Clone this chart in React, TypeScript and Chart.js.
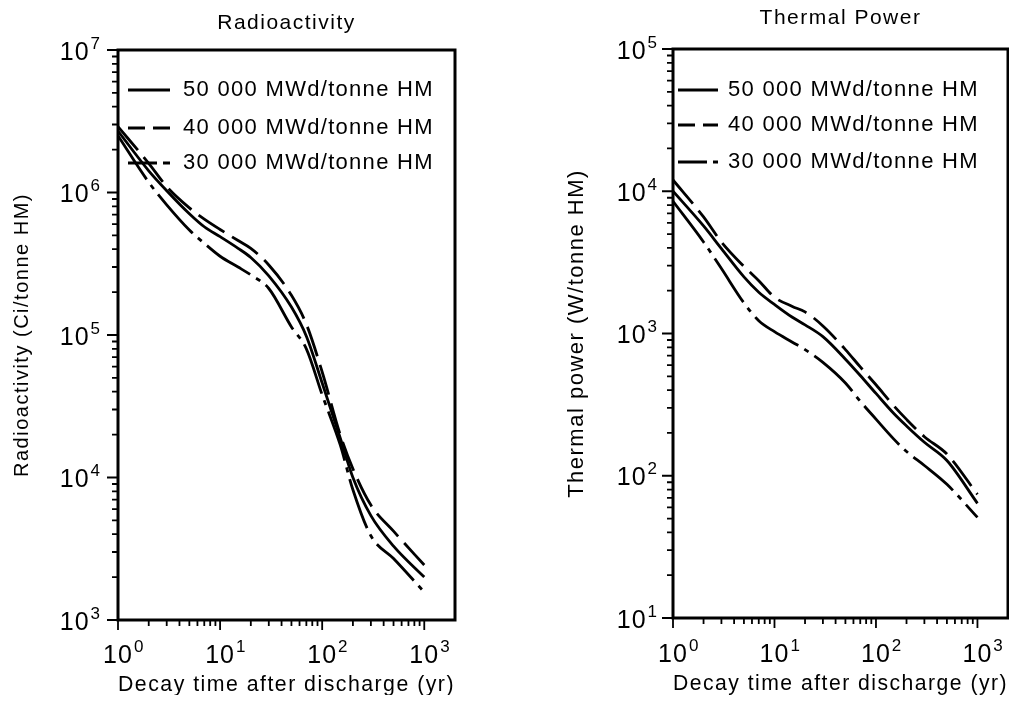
import React, { useEffect, useRef } from 'react';
import { Chart, registerables } from 'chart.js';

Chart.register(...registerables);

// ---------- data ----------
const decayYears = [1, 2, 3, 5, 7, 10, 15, 20, 30, 50, 70, 100, 150, 200, 300, 500, 1000];

const burnupLabels = ['50 000 MWd/tonne HM', '40 000 MWd/tonne HM', '30 000 MWd/tonne HM'];

// Radioactivity (Ci/tonne HM)
const radioactivity50 = [2.7e6, 1.42e6, 1.03e6, 7.1e5, 5.75e5, 4.9e5, 4.06e5, 3.5e5, 2.6e5, 1.57e5, 9.8e4, 4.6e4, 1.9e4, 1.0e4, 5.4e3, 3.3e3, 2.0e3];
const radioactivity40 = [2.9e6, 1.6e6, 1.1e6, 7.8e5, 6.5e5, 5.5e5, 4.6e5, 4.05e5, 3.1e5, 1.9e5, 1.19e5, 5.5e4, 2.0e4, 1.15e4, 6.4e3, 4.2e3, 2.43e3];
const radioactivity30 = [2.5e6, 1.18e6, 8.2e5, 5.46e5, 4.4e5, 3.57e5, 3.0e5, 2.64e5, 2.12e5, 1.14e5, 8.0e4, 3.8e4, 1.7e4, 8.2e3, 3.9e3, 2.7e3, 1.57e3];

// Thermal power (W/tonne HM)
const thermal50 = [1.0e4, 5.7e3, 3.95e3, 2.5e3, 1.95e3, 1.6e3, 1.3e3, 1.15e3, 950, 660, 507, 379, 274, 224, 172, 128, 64];
const thermal40 = [1.2e4, 6.6e3, 4.4e3, 2.96e3, 2.35e3, 1.8e3, 1.55e3, 1.42e3, 1.13e3, 771, 582, 436, 310, 249, 188, 142, 74];
const thermal30 = [8.5e3, 4.4e3, 2.86e3, 1.64e3, 1.23e3, 1.03e3, 869, 770, 627, 449, 334, 250, 181, 148, 118, 87, 51];

const xAxisTitle = 'Decay time after discharge (yr)';

// ---------- styles ----------
const FONT = '"Liberation Sans", Arial, Helvetica, sans-serif';
const lineDashes: number[][] = [[], [31, 9], [52, 7, 5, 7]];
const legendDashes: number[][] = [[], [17, 8], [29, 6, 10, 6]];

function decadeExponent(value: number): number | null {
  const e = Math.log10(value);
  const r = Math.round(e);
  return Math.abs(e - r) > 1e-6 ? null : r;
}

const spacingPlugin = {
  id: 'letterSpacing',
  beforeDraw(chart: any) {
    chart.ctx.letterSpacing = '1.5px';
  },
};

// draws "10" with a raised exponent; anchorX is the centre of "10" (mode 'center') or the right edge of the label (mode 'right')
function drawPower(ctx: any, exp: number, anchorX: number, baseline: number, mode: 'center' | 'right') {
  ctx.textBaseline = 'alphabetic';
  ctx.textAlign = 'left';
  ctx.letterSpacing = '1px';
  ctx.font = `25px ${FONT}`;
  const baseW = ctx.measureText('10').width;
  ctx.letterSpacing = '0px';
  ctx.font = `17px ${FONT}`;
  const expText = String(exp);
  const expW = ctx.measureText(expText).width;
  const baseX = mode === 'center' ? anchorX - baseW / 2 : anchorX - expW - 1 - baseW;
  ctx.letterSpacing = '1px';
  ctx.font = `25px ${FONT}`;
  ctx.fillText('10', baseX, baseline);
  ctx.letterSpacing = '0px';
  ctx.font = `17px ${FONT}`;
  ctx.fillText(expText, baseX + baseW + 1, baseline - 11);
}

const decorPlugin = {
  id: 'decor',
  afterDatasetsDraw(chart: any, _args: any, opts: any) {
    const { ctx, chartArea: a } = chart;
    const xs = chart.scales.x;
    const ys = chart.scales.y;
    ctx.save();
    ctx.strokeStyle = '#000';
    ctx.fillStyle = '#000';
    ctx.setLineDash([]);
    ctx.lineCap = 'butt';

    // tick marks (outside the frame)
    ctx.lineWidth = 1.8;
    ctx.beginPath();
    const yE0 = Math.round(Math.log10(ys.min));
    const yE1 = Math.round(Math.log10(ys.max));
    for (let e = yE0; e <= yE1; e++) {
      for (let m = 1; m <= 9; m++) {
        const v = m * Math.pow(10, e);
        if (v > ys.max * 1.0001) break;
        const py = ys.getPixelForValue(v);
        const len = m === 1 ? 11 : 6;
        ctx.moveTo(a.left - len, py);
        ctx.lineTo(a.left, py);
      }
    }
    const xE1 = Math.round(Math.log10(opts.xTickMax));
    for (let e = 0; e <= xE1; e++) {
      for (let m = 1; m <= 9; m++) {
        const v = m * Math.pow(10, e);
        if (v > opts.xTickMax * 1.0001) break;
        const px = xs.getPixelForValue(v);
        const len = m === 1 ? 10 : 6;
        ctx.moveTo(px, a.bottom);
        ctx.lineTo(px, a.bottom + len);
      }
    }
    ctx.stroke();

    // frame
    ctx.lineWidth = 3;
    ctx.strokeRect(a.left, a.top, a.right - a.left, a.bottom - a.top);

    // decade tick labels from the library's generated ticks
    ys.ticks.forEach((t: any) => {
      const e = decadeExponent(t.value);
      if (e === null) return;
      drawPower(ctx, e, a.left - opts.yLabelGap, ys.getPixelForValue(t.value) + 9.5, 'right');
    });
    xs.ticks.forEach((t: any) => {
      const e = decadeExponent(t.value);
      if (e === null || t.value > opts.xTickMax * 1.0001) return;
      drawPower(ctx, e, xs.getPixelForValue(t.value), a.bottom + opts.xLabelDrop, 'center');
    });

    // legend inside the plot
    ctx.letterSpacing = '1.3px';
    ctx.font = `22px ${FONT}`;
    ctx.textBaseline = 'middle';
    ctx.textAlign = 'left';
    chart.data.datasets.forEach((ds: any, i: number) => {
      const y = a.top + opts.legendRows[i];
      ctx.lineWidth = 2.8;
      ctx.setLineDash(legendDashes[i]);
      ctx.beginPath();
      ctx.moveTo(a.left + opts.sampleStart, y);
      ctx.lineTo(a.left + opts.sampleEnd, y);
      ctx.stroke();
      ctx.setLineDash([]);
      ctx.fillText(ds.label, a.left + opts.textStart, y);
    });
    ctx.restore();
  },
};

type Params = {
  title: string;
  yTitle: string;
  yMin: number;
  yMax: number;
  series: number[][];
  yAxisWidth: number;
  xAxisHeight: number;
  yTitlePad: number;
  yTitleSize: number;
  yLabelGap: number;
  xLabelDrop: number;
  xTitlePad: number;
  titlePad: { top: number; bottom: number };
  rightPad: number;
  legendRows: number[];
  sampleStart: number;
  sampleEnd: number;
  textStart: number;
};

function buildConfig(p: Params): any {
  return {
    type: 'line',
    data: {
      datasets: p.series.map((vals, i) => ({
        label: burnupLabels[i],
        data: decayYears.map((t, j) => ({ x: t, y: vals[j] })),
        borderColor: '#000',
        backgroundColor: '#000',
        borderWidth: 2.8,
        borderDash: lineDashes[i],
        borderCapStyle: 'butt',
        pointRadius: 0,
        fill: false,
        cubicInterpolationMode: 'monotone',
      })),
    },
    options: {
      responsive: false,
      animation: false,
      devicePixelRatio: 1,
      events: [],
      layout: { padding: { left: 0, right: p.rightPad, top: 0, bottom: 0 } },
      plugins: {
        legend: { display: false },
        tooltip: { enabled: false },
        title: {
          display: true,
          text: p.title,
          fullSize: false,
          color: '#000',
          font: { family: FONT, size: 21, weight: 'normal', lineHeight: 1 },
          padding: p.titlePad,
        },
        decor: {
          xTickMax: 1000,
          yLabelGap: p.yLabelGap,
          xLabelDrop: p.xLabelDrop,
          legendRows: p.legendRows,
          sampleStart: p.sampleStart,
          sampleEnd: p.sampleEnd,
          textStart: p.textStart,
        },
      },
      scales: {
        x: {
          type: 'logarithmic',
          position: 'bottom',
          min: 1,
          max: 2000,
          grid: { display: false, drawTicks: false },
          border: { display: false },
          ticks: { display: false, autoSkip: false },
          title: {
            display: true,
            text: xAxisTitle,
            color: '#000',
            font: { family: FONT, size: 21.5, lineHeight: 1 },
            padding: { top: 0, bottom: p.xTitlePad },
          },
          afterFit: (s: any) => {
            s.height = p.xAxisHeight;
          },
        },
        y: {
          type: 'logarithmic',
          position: 'left',
          min: p.yMin,
          max: p.yMax,
          grid: { display: false, drawTicks: false },
          border: { display: false },
          ticks: { display: false, autoSkip: false },
          title: {
            display: true,
            text: p.yTitle,
            color: '#000',
            font: { family: FONT, size: p.yTitleSize, lineHeight: 1 },
            padding: { top: p.yTitlePad, bottom: 0 },
          },
          afterFit: (s: any) => {
            s.width = p.yAxisWidth;
          },
        },
      },
    },
    plugins: [spacingPlugin, decorPlugin],
  };
}

const CANVAS_H = 695;

function ChartPanel(props: { left: number; width: number; params: Params }) {
  const ref = useRef<HTMLCanvasElement>(null);
  useEffect(() => {
    if (!ref.current) return;
    const chart = new Chart(ref.current, buildConfig(props.params));
    return () => chart.destroy();
  }, []);
  return (
    <canvas
      ref={ref}
      width={props.width}
      height={CANVAS_H}
      style={{ position: 'absolute', left: props.left, top: 0, width: props.width, height: CANVAS_H, display: 'block' }}
    />
  );
}

const radioParams: Params = {
  title: 'Radioactivity',
  yTitle: 'Radioactivity (Ci/tonne HM)',
  yMin: 1e3,
  yMax: 1e7,
  series: [radioactivity50, radioactivity40, radioactivity30],
  yAxisWidth: 110,
  xAxisHeight: 83,
  yTitlePad: 4,
  yTitleSize: 20,
  yLabelGap: 18,
  xLabelDrop: 43,
  xTitlePad: 7,
  titlePad: { top: 4.5, bottom: 16.5 },
  rightPad: 73,
  legendRows: [40, 78, 113],
  sampleStart: 10,
  sampleEnd: 52,
  textStart: 65,
};

const thermalParams: Params = {
  title: 'Thermal Power',
  yTitle: 'Thermal power (W/tonne HM)',
  yMin: 1e1,
  yMax: 1e5,
  series: [thermal50, thermal40, thermal30],
  yAxisWidth: 145,
  xAxisHeight: 85,
  yTitlePad: 38,
  yTitleSize: 22,
  yLabelGap: 16,
  xLabelDrop: 44,
  xTitlePad: 8.5,
  titlePad: { top: 0, bottom: 20 },
  rightPad: 8,
  legendRows: [41, 76, 113],
  sampleStart: 5,
  sampleEnd: 45,
  textStart: 55,
};

export default function App() {
  return (
    <div style={{ position: 'relative', width: 1001, height: 687 }}>
      <ChartPanel left={0} width={520} params={radioParams} />
      <ChartPanel left={520} width={488} params={thermalParams} />
    </div>
  );
}
